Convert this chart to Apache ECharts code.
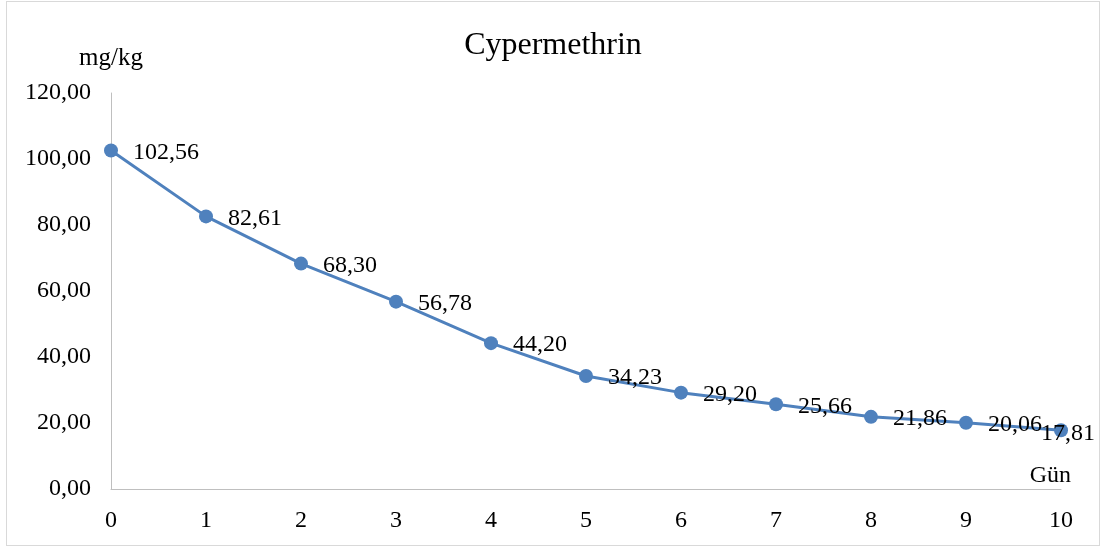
<!doctype html>
<html>
	<head>
		<meta charset="UTF-8">
		<title>Cypermethrin</title>
		<style type="text/css">
			html,body{margin:0;padding:0;background:#fff;}
			#main{position:absolute;left:6px;top:1px;width:1094px;height:545px;border:1px solid #d9d9d9;box-sizing:border-box;}
		</style>
	</head>
	<body>
		<div id="main"></div>
		<script src="https://cdn.jsdelivr.net/npm/echarts@6/dist/echarts.min.js"></script>
		<script type="text/javascript">
			// 数据
			var days = [0, 1, 2, 3, 4, 5, 6, 7, 8, 9, 10];
			var residue = [102.56, 82.61, 68.30, 56.78, 44.20, 34.23, 29.20, 25.66, 21.86, 20.06, 17.81];

			function fmt(v){
				return v.toFixed(2).replace('.', ',');
			}

			var pts = [];
			for (var i = 0; i < days.length; i++) {
				var p = { value: [days[i], residue[i]] };
				if (i == days.length - 1) {
					// 最后一个标签被挤到点上
					p.label = { offset: [-42, 3] };
				}
				pts.push(p);
			}

			var myChart = echarts.init(document.getElementById('main'));
			var font = 'Liberation Serif, Times New Roman, serif';
			var option = {
				animation: false,
				textStyle: { fontFamily: font },
				title: {
					text: 'Cypermethrin',
					left: 'center',
					top: 23,
					textStyle: { fontFamily: font, fontSize: 32, fontWeight: 'normal', color: '#000' }
				},
				grid: { left: 104, right: 38, top: 91, bottom: 56 },
				xAxis: {
					type: 'value',
					min: 0, max: 10, interval: 1,
					name: 'Gün',
					nameLocation: 'end',
					nameGap: 10,
					nameTextStyle: { fontFamily: font, fontSize: 24, color: '#000', align: 'right', verticalAlign: 'bottom', padding: [0, 0, 1, 0] },
					axisLine: { lineStyle: { color: '#bfbfbf', width: 1 } },
					axisTick: { show: false },
					splitLine: { show: false },
					axisLabel: { fontFamily: font, fontSize: 24, color: '#000', margin: 20 }
				},
				yAxis: {
					type: 'value',
					min: 0, max: 120, interval: 20,
					name: 'mg/kg',
					nameLocation: 'end',
					nameGap: 22,
					nameTextStyle: { fontFamily: font, fontSize: 25, color: '#000', align: 'center' },
					axisLine: { show: true, lineStyle: { color: '#bfbfbf', width: 1 } },
					axisTick: { show: false },
					splitLine: { show: false },
					axisLabel: { fontFamily: font, fontSize: 24, color: '#000', margin: 20, formatter: fmt }
				},
				series: [{
					type: 'line',
					data: pts,
					symbol: 'circle',
					symbolSize: 14,
					lineStyle: { color: '#4f81bd', width: 3 },
					itemStyle: { color: '#4f81bd' },
					label: {
						show: true,
						position: 'right',
						distance: 15,
						offset: [0, 2],
						fontFamily: font,
						fontSize: 24,
						color: '#000',
						formatter: function(p){ return fmt(p.value[1]); }
					}
				}]
			};
			myChart.setOption(option);
		</script>
	</body>
</html>
